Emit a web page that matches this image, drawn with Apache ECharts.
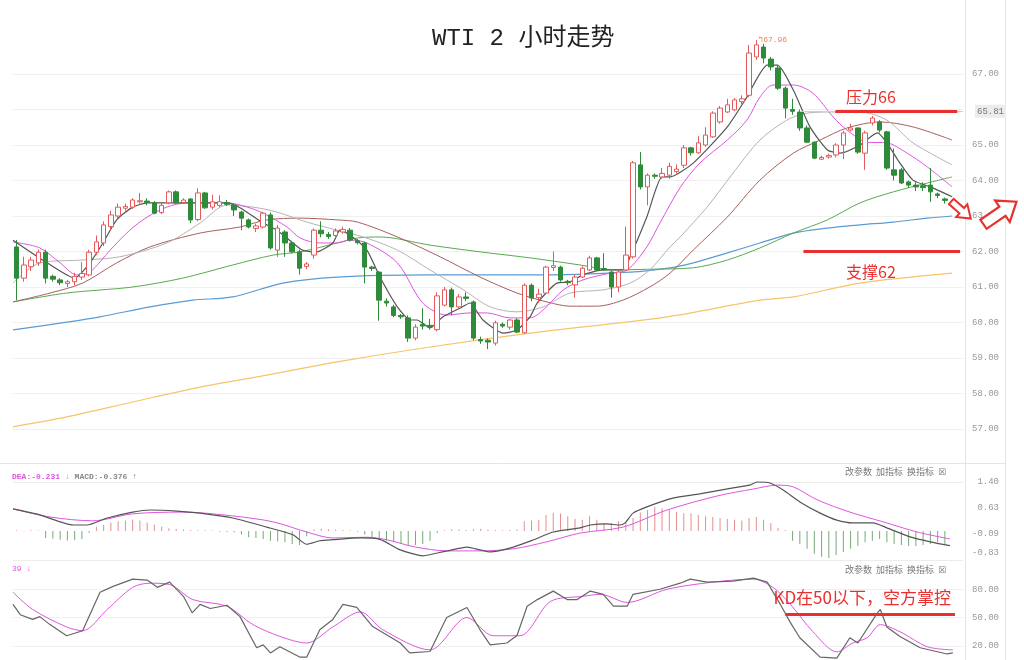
<!DOCTYPE html>
<html>
<head>
<meta charset="utf-8">
<script src="https://cdn.jsdelivr.net/npm/echarts@6/dist/echarts.min.js"></script>
<style>
html,body{margin:0;padding:0;background:#fff;}
#chart{width:1024px;height:660px;}
</style>
</head>
<body>
<div id="chart"></div>
<script>
// ---------------- DATA ----------------
const chartTitle = 'WTI 2 小时走势';
const categories = Array.from({length: 131}, (_, i) => 'B' + (i + 1));

// [open, close, low, high]
const candles = [
[62.13,61.25,60.63,62.32],[61.25,61.62,61.15,61.85],[61.57,61.76,61.45,61.85],[61.68,61.98,61.6,62.05],
[61.98,61.25,61.1,62.05],[61.3,61.22,61.15,61.35],[61.2,61.12,61.05,61.25],[61.1,61.15,61.0,61.2],
[61.15,61.3,61.05,61.4],[61.28,61.38,61.2,61.7],[61.34,61.98,61.3,62.05],[61.98,62.27,61.9,62.45],
[62.24,62.75,62.15,62.85],[62.7,63.03,62.6,63.15],[63.0,63.25,62.95,63.35],[63.22,63.27,63.15,63.35],
[63.25,63.45,63.2,63.5],[63.4,63.43,63.35,63.65],[63.42,63.38,63.3,63.5],[63.37,63.08,63.05,63.42],
[63.1,63.3,63.05,63.4],[63.37,63.68,63.33,63.72],[63.68,63.37,63.35,63.72],[63.38,63.45,63.35,63.5],
[63.48,62.89,62.8,63.5],[62.9,63.65,62.85,63.78],[63.65,63.23,63.2,63.68],[63.25,63.4,63.18,63.6],
[63.3,63.4,63.25,63.58],[63.37,63.33,63.28,63.45],[63.31,63.17,63.0,63.35],[63.11,62.94,62.6,63.15],
[62.89,62.69,62.65,62.93],[62.65,62.72,62.55,62.78],[62.69,63.08,62.65,63.12],[63.03,62.1,62.05,63.1],
[62.04,62.66,61.85,62.75],[62.55,62.24,61.85,62.6],[62.24,61.99,61.95,62.3],[61.99,61.53,61.35,62.05],
[61.58,61.65,61.5,61.7],[61.9,62.6,61.8,62.65],[62.6,62.5,62.4,62.85],[62.48,62.42,62.35,62.55],
[62.45,62.58,62.4,62.65],[62.55,62.62,62.5,62.7],[62.6,62.32,62.28,62.66],[62.3,62.25,62.2,62.35],
[62.24,61.56,61.1,62.27],[61.56,61.52,61.45,61.6],[61.42,60.63,60.05,61.45],[60.6,60.55,60.45,60.68],
[60.44,60.2,60.15,60.5],[60.2,60.16,60.1,60.24],[60.13,59.56,59.45,60.2],[59.56,59.87,59.5,59.95],
[59.95,59.9,59.8,60.4],[59.92,59.87,59.8,60.1],[59.8,60.75,59.75,60.85],[60.49,60.92,60.45,61.0],
[60.92,60.44,60.2,60.98],[60.44,60.72,60.4,60.8],[60.72,60.68,60.6,60.85],[60.58,59.56,59.5,60.62],
[59.52,59.48,59.4,59.6],[59.5,59.45,59.25,59.55],[59.42,59.99,59.35,60.05],[59.95,59.9,59.85,60.0],
[59.87,60.07,59.8,60.1],[60.07,59.73,59.7,60.12],[59.71,61.05,59.68,61.1],[61.05,60.69,60.6,61.1],
[60.7,60.8,60.55,60.95],[60.83,61.56,60.8,61.6],[61.55,61.6,61.45,62.0],[61.56,61.2,61.15,61.6],
[61.16,61.12,61.05,61.2],[61.06,61.28,60.7,61.35],[61.28,61.53,61.25,61.58],[61.48,61.82,61.45,61.88],
[61.82,61.48,61.45,61.85],[61.52,61.48,61.45,61.95],[61.42,61.0,60.7,61.45],[61.0,61.42,60.85,61.48],
[61.48,61.9,61.45,62.7],[61.85,64.5,61.8,64.55],[64.44,63.82,63.75,64.8],[63.82,64.15,63.3,64.2],
[64.15,64.12,64.05,64.2],[64.1,64.2,64.05,64.35],[64.15,64.4,64.05,64.5],[64.25,64.32,64.2,64.45],
[64.43,64.92,64.35,65.0],[64.92,64.78,64.7,64.95],[64.78,65.06,64.75,65.25],[65.0,65.28,64.95,65.5],
[65.23,65.9,65.2,65.95],[65.65,66.04,65.6,66.1],[65.93,66.13,65.9,66.3],[65.99,66.27,65.95,66.32],
[66.22,66.3,66.15,66.4],[66.4,67.59,66.35,67.82],[67.48,67.82,67.4,67.96],[67.76,67.45,67.3,67.85],
[67.42,67.2,67.1,67.48],[67.17,66.6,66.55,67.25],[66.6,66.04,65.75,66.65],[66.0,65.95,65.85,66.3],
[65.93,65.48,65.4,66.0],[65.48,65.08,65.05,65.55],[65.08,64.63,64.6,65.1],[64.6,64.65,64.58,64.7],
[64.66,64.7,64.62,64.75],[64.72,65.0,64.65,65.05],[65.0,65.34,64.6,65.4],[65.42,65.48,65.38,65.6],
[65.48,64.8,64.75,65.5],[64.77,65.34,64.3,65.4],[65.62,65.76,65.55,65.82],[65.65,65.42,65.35,65.7],
[65.37,64.35,64.3,65.4],[64.3,64.15,64.0,64.9],[64.3,63.93,63.9,64.35],[63.96,63.87,63.8,64.0],
[63.87,63.82,63.7,63.95],[63.85,63.8,63.7,63.95],[63.87,63.68,63.4,64.35],[63.62,63.58,63.5,63.66],
[63.48,63.44,63.35,63.52]
];

// moving averages: [bar index, price]
const ma5 = [[-0.5,62.32],[4.2,61.68],[8,61.25],[10.1,61.68],[11.9,62.24],[13.8,62.89],[16,63.25],[18,63.37],[23.5,63.37],[29,63.37],[30.8,63.23],[34,62.8],[35.9,62.6],[38.1,62.24],[39.4,62.04],[41.4,61.99],[43.6,62.24],[44.6,62.6],[46,62.46],[48.3,62.04],[50.1,61.28],[52.5,60.44],[54.3,60.07],[55.2,60.07],[57,59.85],[58.8,60.16],[61.2,60.41],[62.5,60.55],[64.3,60.07],[67.1,59.7],[69,59.79],[70.8,60.16],[71.8,60.55],[74.5,61.11],[76.3,61.14],[78.1,61.34],[80.9,61.48],[83.6,61.48],[84.6,61.85],[86.9,62.97],[89,64.1],[90.1,64.1],[93.3,64.49],[98,65.51],[100.7,66.35],[103.5,67.25],[104.9,67.25],[107.1,66.55],[109.4,65.51],[111.8,64.86],[113.6,64.77],[116.3,65.0],[118.7,65.34],[120,65.06],[121.8,64.49],[123.6,64.01],[126,63.82],[129,63.54]];
const ma10 = [[-0.5,62.27],[3.2,62.1],[6,61.68],[8.3,61.34],[10.1,61.42],[12.9,62.04],[15.6,62.6],[18,62.97],[20.7,63.25],[23.5,63.37],[29,63.37],[31.8,63.25],[34,63.08],[37.3,62.69],[39.1,62.38],[41.8,62.24],[44.2,62.24],[46,62.32],[48.3,62.24],[52.5,61.68],[56,60.55],[59.3,60.21],[62.5,60.27],[64.9,60.27],[68,60.13],[70.8,60.13],[72.6,60.35],[75.4,60.92],[78.1,61.2],[81.8,61.39],[84.2,61.48],[86.9,62.13],[88.7,62.8],[91.5,63.8],[94.2,64.49],[98,65.14],[100.7,65.7],[102.5,66.35],[104.3,66.69],[107.1,66.69],[109.8,66.46],[112.6,65.79],[114.5,65.42],[117.3,65.08],[120,65.06],[122.8,64.77],[125.6,64.38],[129,63.82]];
const ma20 = [[-0.5,61.11],[3.2,61.68],[9.1,61.76],[14.2,61.85],[20.7,62.24],[25.3,62.8],[29,63.31],[32.6,63.25],[35.9,63.11],[40,62.83],[44.2,62.6],[47.8,62.41],[52.5,62.04],[57,61.48],[61.6,60.92],[65.3,60.44],[69,60.3],[72.6,60.44],[76.3,60.83],[80.9,60.92],[84.6,61.11],[87.3,61.48],[90.1,62.13],[91.5,62.41],[95.2,63.25],[98.8,64.21],[102.5,65.14],[106.2,65.7],[109,65.9],[112.6,65.93],[116.3,65.93],[120,65.7],[123.6,65.06],[129,64.44]];
const ma30 = [[-0.5,60.58],[4.6,60.83],[9.1,61.11],[13.8,61.68],[18.4,62.13],[25.3,62.52],[30.8,62.69],[34.5,62.89],[39.1,62.94],[44.2,62.89],[47,62.83],[52.5,62.41],[58.4,61.85],[63.9,61.28],[69,60.83],[73.1,60.58],[76.3,60.46],[80,60.46],[83.6,60.63],[87.3,61.0],[90.1,61.39],[93.3,62.04],[98,62.97],[102.5,64.01],[107.1,64.77],[110.8,65.14],[114.5,65.48],[119.1,65.65],[123.6,65.51],[129,65.14]];
const ma60 = [[-0.5,60.58],[6.9,60.83],[16,61.0],[22.9,61.25],[29.8,61.62],[35.4,61.9],[39.1,61.99],[44.2,62.24],[47,62.38],[50.1,62.41],[57,62.18],[63.9,61.99],[70.8,61.82],[77.7,61.62],[82.2,61.48],[87,61.5],[93.3,61.54],[98,61.76],[102.5,62.1],[107.1,62.52],[111.8,62.89],[116.3,63.37],[120.9,63.68],[125.6,63.93],[129,64.1]];
const ma120 = [[-0.5,59.79],[6.9,60.01],[11.5,60.16],[18.4,60.44],[24.3,60.63],[29.8,60.72],[36.7,61.11],[44.2,61.28],[57,61.34],[70.8,61.34],[84.6,61.42],[90.1,61.54],[93.3,61.68],[98,61.96],[102.5,62.24],[107.1,62.52],[111.8,62.66],[116.3,62.75],[120.9,62.83],[125.6,62.94],[129,63.0]];
const ma250 = [[-0.5,57.06],[6.9,57.34],[16,57.76],[25.3,58.18],[34.5,58.52],[44.2,58.89],[57,59.31],[70.8,59.7],[89.7,60.16],[102.5,60.63],[107.1,60.72],[116.3,61.11],[129,61.39]];

// MACD panel
const macdHist = [
0.02,-0.01,0.02,0.01,
-0.2,-0.22,-0.25,-0.27,-0.26,-0.24,
-0.05,
0.12,0.18,0.24,0.28,0.3,0.32,0.3,0.24,0.18,0.12,0.08,0.06,0.04,
0.03,0.02,0.02,0.01,-0.02,-0.03,-0.04,
-0.1,-0.18,-0.2,-0.23,-0.28,-0.3,-0.32,-0.37,-0.4,
-0.15,0.05,0.06,0.05,0.04,0.03,0.02,-0.02,
-0.1,-0.18,-0.23,-0.28,-0.32,-0.37,-0.42,-0.4,-0.37,-0.28,
-0.05,0.02,0.05,0.04,0.03,0.05,0.06,0.04,0.03,0.02,0.03,0.04,
0.28,0.3,0.32,0.46,0.52,0.5,0.42,0.34,0.32,0.42,0.32,0.23,0.23,0.28,
0.23,0.37,0.53,0.6,0.69,0.65,0.6,0.55,0.51,0.51,0.46,0.42,0.4,0.37,0.34,0.32,0.3,0.37,0.4,0.32,0.23,0.09,0.03,
-0.28,-0.37,-0.51,-0.65,-0.74,-0.77,-0.69,-0.6,-0.51,-0.42,-0.32,-0.28,-0.23,-0.32,-0.37,-0.4,-0.43,-0.43,-0.4,-0.37,-0.32,-0.376
];
const macdDif = [[-0.5,0.63],[3.2,0.46],[7.8,0.17],[9.7,0.17],[12.5,0.37],[16,0.54],[18.4,0.6],[22.1,0.57],[25.3,0.51],[29.8,0.37],[34.5,0.11],[38.1,-0.11],[40,-0.38],[41.8,-0.28],[43.6,-0.25],[47.4,-0.2],[50.1,-0.24],[52.9,-0.54],[56,-0.71],[58,-0.63],[59.4,-0.57],[62.1,-0.46],[63.9,-0.54],[65.3,-0.6],[68.5,-0.46],[71.2,-0.26],[74,-0.03],[77.7,0.09],[79.1,0.17],[81.4,0.2],[83.2,0.17],[83.9,0.23],[85,0.51],[86.9,0.69],[90.5,0.94],[94.2,1.06],[98.8,1.23],[101.1,1.31],[102.1,1.4],[103.9,1.37],[105.7,1.17],[108,0.83],[110.8,0.51],[113.1,0.31],[115.3,0.23],[118.1,0.23],[120,0.09],[123.2,-0.17],[126,-0.31],[128.7,-0.42]];
const macdDea = [[-0.5,0.63],[4.6,0.4],[10.5,0.29],[16,0.49],[23,0.54],[29.8,0.43],[35.4,0.26],[40,-0.03],[43.6,-0.2],[48.3,-0.18],[51,-0.25],[55,-0.46],[59.4,-0.57],[63.9,-0.57],[68.5,-0.51],[73.1,-0.31],[77.7,-0.06],[83.6,0.11],[89.7,0.6],[96.6,1.0],[101.6,1.2],[104.9,1.31],[107.1,1.26],[110.4,0.89],[114.9,0.54],[119.5,0.26],[124.2,-0.03],[128.7,-0.23]];
const macdTickLabels = ['-0.83', '-0.09', '0.63', '1.40'];
const macdHeader = ['DEA:-0.231 ↓', 'MACD:-0.376 ↑'];

// KD panel
const kdK = [[-0.5,64],[0.5,53],[2.2,48],[3.2,51],[4.6,42.5],[6.9,30.7],[9.1,36],[11.5,76.8],[13.3,83],[16,90.7],[18,89.7],[19.4,82],[21.1,87.5],[23,72.5],[24.2,55],[25.3,64],[26.7,59.6],[29,63],[30.8,51],[33.1,18],[34,21],[35,12.5],[36.3,19],[39.1,8],[40,8],[41.8,37],[43.6,48],[45,64],[46.9,60.7],[49.1,40.4],[52.9,23],[54.2,12.5],[57,14],[59.3,50],[62.1,60.7],[63.9,37],[65.3,21],[67.6,23],[69,31],[70.4,62],[71.8,69],[74,78],[75.9,69],[77.3,69],[79.1,78],[80.9,74.6],[82.3,62],[84.2,62],[85,74.6],[88.7,80],[91.5,86.4],[92.9,90.7],[95.2,87.5],[98.8,88.6],[101.6,91.8],[103.5,87.5],[105.3,64],[106.7,44.6],[108,28.6],[110.8,8],[113.1,7],[114.9,28.6],[116,23],[118.7,55],[119.1,58.6],[120,40],[121.8,30],[124.6,18],[128.3,11.4],[129.1,12.5]];
const kdD = [[-0.5,76.8],[2.2,58.6],[6.9,40],[9.1,36],[12.5,58.6],[16,82],[18.4,86.4],[21.1,85],[24.3,69],[29,62],[32.6,42.5],[36.3,30],[40,23],[43.6,40],[47.4,56],[50.5,37],[57,15.7],[62.1,50],[65.7,30.7],[69.4,30.7],[73.6,67],[78.1,72.5],[80.5,74.6],[84.2,66],[89.7,80],[96,87.5],[101.6,90.7],[104.3,82],[106.7,64],[109.8,35],[113.1,13.6],[115.3,23],[117.3,28.6],[119.1,42.5],[121.8,35],[125.6,19],[129.1,15.7]];
const kdTickLabels = ['20.00', '50.00', '80.00'];
const kdHeader = '39 ↓';
const toolbarText = '改参数  加指标  换指标  ☒';

// annotations
const annotations = ['压力66', '支撑62', 'KD在50以下，空方掌控'];
const pressureLevel = 65.95;
const supportLevel = 62;
const kdLevel = 53;
const priceMarkLevel = 65.95;
const priceMarkText = '65.81';

// ---------------- CHART ----------------
const chart = echarts.init(document.getElementById('chart'), null, {renderer: 'canvas'});
const MONO = '"Liberation Mono","DejaVu Sans Mono",monospace';
const CJK = '"Noto Sans CJK SC","Noto Sans",sans-serif';
const RED = '#e8312f';
const MAG = '#e055e0';
const GRIDC = '#f0f0f0';
const NONE = 'rgba(0,0,0,0)';

const hiddenCat = (g) => ({type: 'category', gridIndex: g, data: categories, show: false, boundaryGap: true});
const hiddenVal = (g) => ({type: 'value', gridIndex: g, min: -0.5, max: 130.5, show: false});

const lineS = (name, data, color, width, xi, yi, smooth) => ({
  name, type: 'line', data, xAxisIndex: xi, yAxisIndex: yi, showSymbol: false, symbol: 'none',
  smooth: smooth, lineStyle: {color, width}, silent: true, z: 3
});

const axisLabelBase = {color: '#999', fontSize: 9, fontFamily: MONO, align: 'right', margin: 36};

const arrowSmall = [[-13,-3.5],[1,-3.5],[1,-8.5],[13,0],[1,8.5],[1,3.5],[-13,3.5]];
const arrowBig = [[-20,-5.5],[3,-5.5],[3,-13],[20,0],[3,13],[3,5.5],[-20,5.5]];

const option = {
  animation: false,
  backgroundColor: '#fff',
  title: [
    {text: chartTitle, left: 432, top: 27, padding: 0,
     textStyle: {fontSize: 24, fontWeight: 'normal', color: '#222', fontFamily: '"Liberation Mono","Noto Sans CJK SC",monospace'}},
    {text: '{a|' + macdHeader[0] + '} {b|' + macdHeader[1] + '}', left: 12, top: 468, padding: 0,
     textStyle: {rich: {a: {color: MAG, fontSize: 8, fontFamily: MONO}, b: {color: '#888', fontSize: 8, fontFamily: MONO}}}},
    {text: toolbarText, left: 845, top: 467, padding: 0,
     textStyle: {fontSize: 9, fontWeight: 'normal', color: '#777', fontFamily: '"Noto Sans CJK SC","DejaVu Sans",sans-serif'}},
    {text: kdHeader, left: 12, top: 565, padding: 0,
     textStyle: {fontSize: 8, fontWeight: 'normal', color: MAG, fontFamily: MONO}},
    {text: toolbarText, left: 845, top: 565, padding: 0,
     textStyle: {fontSize: 9, fontWeight: 'normal', color: '#777', fontFamily: '"Noto Sans CJK SC","DejaVu Sans",sans-serif'}}
  ],
  grid: [
    {left: 13, width: 950, top: 38.5, height: 426},
    {left: 13, width: 950, top: 482, height: 78},
    {left: 13, width: 950, top: 561.4, bottom: 0}
  ],
  xAxis: [hiddenCat(0), hiddenVal(0), hiddenCat(1), hiddenVal(1), hiddenVal(2)],
  yAxis: [
    {type: 'value', gridIndex: 0, position: 'right', min: 56, max: 68, interval: 1,
     axisLine: {show: false}, axisTick: {show: false},
     axisLabel: Object.assign({}, axisLabelBase, {showMinLabel: false, showMaxLabel: false,
       formatter: (v) => Math.abs(v - 66) < 1e-6 ? '' : v.toFixed(2)}),
     splitLine: {show: true, showMinLine: false, showMaxLine: false, lineStyle: {color: GRIDC, width: 1}}},
    {type: 'value', gridIndex: 1, position: 'right', min: -0.83, max: 1.40, interval: 2.23 / 3,
     axisLine: {show: false}, axisTick: {show: false},
     axisLabel: Object.assign({}, axisLabelBase, {
       formatter: (v) => {
         const vals = macdTickLabels.map(Number);
         let bi = 0; vals.forEach((x, i) => { if (Math.abs(x - v) < Math.abs(vals[bi] - v)) bi = i; });
         return bi === 0 ? '{lo|' + macdTickLabels[0] + '}' : macdTickLabels[bi];
       },
       rich: {lo: {color: '#999', fontSize: 9, fontFamily: MONO, padding: [0, 0, 15, 0]}}}),
     splitLine: {show: true, showMinLine: true, showMaxLine: true,
       lineStyle: {color: ['#ececec', NONE, NONE, '#ececec'], width: 1}}},
    {type: 'value', gridIndex: 2, position: 'right', min: 5, max: 109.5, interval: 15,
     axisLine: {show: false}, axisTick: {show: false},
     axisLabel: Object.assign({}, axisLabelBase, {showMinLabel: false, showMaxLabel: false,
       formatter: (v) => { const s = v.toFixed(2); return kdTickLabels.indexOf(s) >= 0 ? s : ''; }}),
     splitLine: {show: true, showMinLine: true, showMaxLine: false, lineStyle: {color: [NONE, GRIDC], width: 1}}}
  ],
  series: [
    {name: 'K', type: 'candlestick', xAxisIndex: 0, yAxisIndex: 0, data: candles, barWidth: 5, z: 4,
     itemStyle: {color: '#ffffff', color0: '#2e8b3a', borderColor: '#e45a5a', borderColor0: '#2e8b3a', borderWidth: 1},
     markPoint: {symbol: 'circle', symbolSize: 0, silent: true,
       label: {show: true, position: 'right', distance: 2, color: '#f08050', fontSize: 8, fontFamily: MONO,
         formatter: (p) => '↰' + Number(p.value).toFixed(2)},
       data: [{type: 'max', valueDim: 'highest'}]}},
    lineS('MA250', ma250, '#f6c46a', 1.2, 1, 0, 0.3),
    lineS('MA120', ma120, '#5b9bd5', 1.2, 1, 0, 0.3),
    lineS('MA60', ma60, '#5aaa50', 1, 1, 0, 0.3),
    lineS('MA30', ma30, '#a86060', 1, 1, 0, 0.3),
    lineS('MA20', ma20, '#b4b4b4', 1, 1, 0, 0.3),
    lineS('MA10', ma10, MAG, 1, 1, 0, 0.3),
    lineS('MA5', ma5, '#555555', 1.2, 1, 0, 0.2),
    {name: 'annot', type: 'line', xAxisIndex: 1, yAxisIndex: 0, data: [[129, 63.0]], symbol: 'none',
     lineStyle: {width: 0, opacity: 0}, silent: true, z: 6,
     markLine: {silent: true, symbol: ['none', 'none'], animation: false,
       label: {show: false},
       data: [
         [{coord: [108, priceMarkLevel], lineStyle: {color: '#cfcfcf', width: 1, type: 'solid'},
           label: {show: true, position: 'end', distance: 12, formatter: priceMarkText, color: '#777', fontSize: 9,
             fontFamily: MONO, backgroundColor: '#ececec', padding: [2, 2]}},
          {coord: [130.5, priceMarkLevel]}],
         [{coord: [112.9, pressureLevel], lineStyle: {color: RED, width: 3, type: 'solid'}}, {coord: [129.7, pressureLevel]}],
         [{coord: [108.5, supportLevel], lineStyle: {color: RED, width: 3, type: 'solid'}}, {coord: [130.1, supportLevel]}]
       ]},
     markPoint: {symbol: 'rect', symbolSize: 1, itemStyle: {color: NONE}, silent: true,
       label: {show: true, position: 'inside', formatter: '{b}', color: RED, fontSize: 16, fontFamily: CJK},
       data: [{name: annotations[0], coord: [117.8, 66.35]}, {name: annotations[1], coord: [117.8, 61.42]}]}},
    {name: 'MACD', type: 'bar', xAxisIndex: 2, yAxisIndex: 1, data: macdHist, barWidth: 1, silent: true,
     itemStyle: {color: (p) => p.value >= 0 ? '#e58c8c' : '#76aa76'}},
    Object.assign(lineS('DEA', macdDea, MAG, 1, 3, 1, 0.3), {clip: false}),
    Object.assign(lineS('DIF', macdDif, '#555555', 1.2, 3, 1, 0.2), {clip: false}),
    Object.assign(lineS('D', kdD, MAG, 1, 4, 2, 0.3), {
      markLine: {silent: true, symbol: ['none', 'none'], label: {show: false},
        data: [[{coord: [106, kdLevel], lineStyle: {color: RED, width: 3, type: 'solid'}}, {coord: [129.4, kdLevel]}]]},
      markPoint: {symbol: 'rect', symbolSize: 1, itemStyle: {color: NONE}, silent: true,
        label: {show: true, position: 'inside', formatter: '{b}', color: RED, fontSize: 17, fontFamily: CJK},
        data: [{name: annotations[2], coord: [116.6, 71.4]}]}}),
    lineS('Kline', kdK, '#666666', 1.2, 4, 2, false)
  ],
  graphic: [
    {type: 'line', silent: true, z: 1, shape: {x1: 965.5, y1: 0, x2: 965.5, y2: 660}, style: {stroke: '#e4e4e4', lineWidth: 1}},
    {type: 'line', silent: true, z: 1, shape: {x1: 1005.5, y1: 0, x2: 1005.5, y2: 660}, style: {stroke: '#e4e4e4', lineWidth: 1}},
    {type: 'line', silent: true, z: 1, shape: {x1: 0, y1: 463.5, x2: 1005, y2: 463.5}, style: {stroke: '#e4e4e4', lineWidth: 1}},
    {type: 'polygon', silent: true, z: 100, x: 961, y: 210, rotation: -0.72,
     shape: {points: arrowSmall}, style: {fill: '#fff', stroke: RED, lineWidth: 2}},
    {type: 'polygon', silent: true, z: 100, x: 1000, y: 213, rotation: 0.6,
     shape: {points: arrowBig}, style: {fill: '#fff', stroke: RED, lineWidth: 2.2}}
  ]
};
chart.setOption(option);
</script>
</body>
</html>
